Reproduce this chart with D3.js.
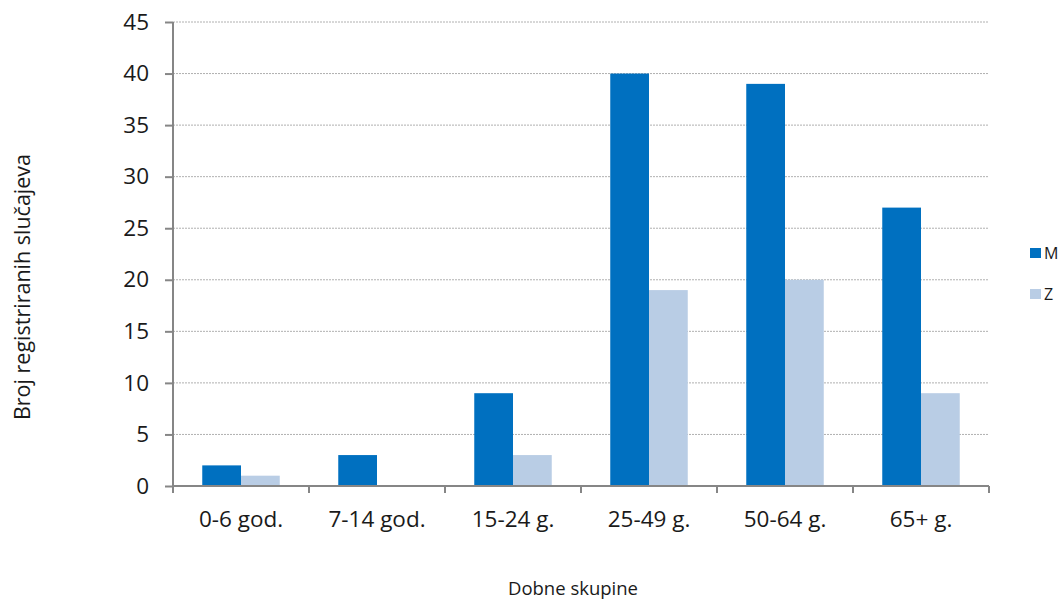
<!DOCTYPE html>
<html><head><meta charset="utf-8">
<script src="https://cdn.jsdelivr.net/npm/d3@7"></script>
<style>body{margin:0;background:#fff}svg{display:block;font-family:"Open Sans","Liberation Sans",sans-serif}</style>
</head><body><svg id="c" width="1061" height="600"></svg>
<script>
const categories=["0-6 god.","7-14 god.","15-24 g.","25-49 g.","50-64 g.","65+ g."];
const seriesNames=["M","Z"];
const valuesM=[2,3,9,40,39,27];
const valuesZ=[1,0,3,19,20,9];
const yTicks=[0,5,10,15,20,25,30,35,40,45];
const colors=["#0070C0","#B9CDE5"];

const svg=d3.select("#c");
const L=173,R=989,T=22,B=486;
const x=d3.scaleBand().domain(categories).range([L,R]).paddingInner(0).paddingOuter(0);
const y=d3.scaleLinear().domain([0,45]).range([B,T]);
const sub=d3.scaleBand().domain(seriesNames).range([0,x.bandwidth()]).paddingOuter(0.755).paddingInner(0);

// grid
svg.append("g").selectAll("line").data(yTicks.filter(d=>d>0)).join("line")
 .attr("x1",L).attr("x2",R).attr("y1",d=>y(d)).attr("y2",d=>y(d))
 .attr("stroke","#b0b0b0").attr("stroke-width",1).attr("stroke-dasharray","2,1");

// bars
const data=categories.map((c,i)=>({c,M:valuesM[i],Z:valuesZ[i]}));
const g=svg.append("g");
seriesNames.forEach((s,si)=>{
 g.selectAll(null).data(data).join("rect")
  .attr("x",d=>x(d.c)+sub(s)).attr("width",sub.bandwidth())
  .attr("y",d=>y(d[s])).attr("height",d=>B-y(d[s]))
  .attr("fill",colors[si]);
});

// axes
const ya=d3.axisLeft(y).tickValues(yTicks).tickSize(8).tickPadding(16);
const yg=svg.append("g").attr("transform",`translate(${L},0)`).call(ya);
const xa=d3.axisBottom(x).tickSize(0).tickPadding(33);
const xg=svg.append("g").attr("transform",`translate(0,${B})`).call(xa);
[yg,xg].forEach(a=>{a.selectAll("path,line").attr("stroke","#868686").attr("stroke-width",2);
 a.selectAll("text").attr("fill","#1a1a1a").style("font-size","22.5px").style("font-family",'"Open Sans","Liberation Sans",sans-serif');});
xg.select(".domain").attr("d",`M${L},0H${R}`);
yg.select(".domain").attr("d",`M0,${T}V${B}`);
xg.selectAll(".tick text").attr("dy","0.35em");
// category boundary ticks
svg.append("g").selectAll("line").data(categories.concat(["_end"])).join("line")
 .attr("x1",(d,i)=>i<categories.length?x(d):R).attr("x2",(d,i)=>i<categories.length?x(d):R)
 .attr("y1",B).attr("y2",B+7).attr("stroke","#868686").attr("stroke-width",2);

// titles
svg.append("text").attr("x",573).attr("y",595).attr("text-anchor","middle").attr("fill","#1a1a1a").style("font-size","18.5px").text("Dobne skupine");
svg.append("text").attr("transform","translate(30,287) rotate(-90)").attr("text-anchor","middle").attr("fill","#1a1a1a").style("font-size","21.5px").text("Broj registriranih slučajeva");

// legend
const lg=svg.append("g");
seriesNames.forEach((s,i)=>{
 const yy=253+i*41;
 lg.append("rect").attr("x",1030).attr("y",yy-5).attr("width",11).attr("height",10).attr("fill",colors[i]);
 lg.append("text").attr("x",1044).attr("y",yy+6).attr("fill","#1a1a1a").style("font-size","16px").text(s);
});
</script></body></html>
